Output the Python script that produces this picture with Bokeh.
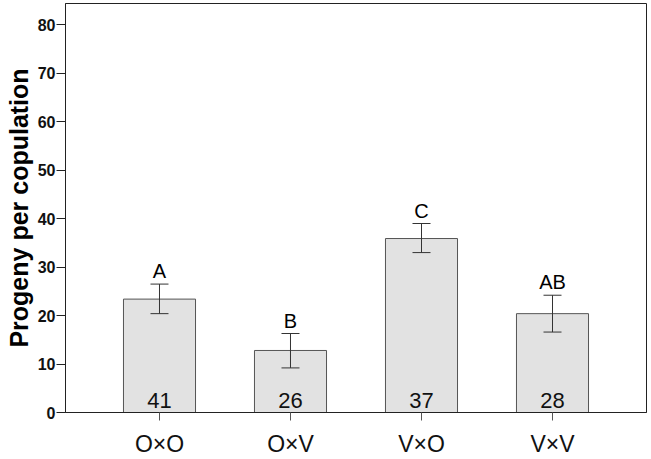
from bokeh.plotting import figure
from bokeh.models import ColumnDataSource, FactorRange, Range1d, FixedTicker, Whisker, TeeHead
from bokeh.embed import file_html
from bokeh.resources import INLINE
from bokeh.core.properties import value

cats = ["O×O", "O×V", "V×O", "V×V"]
means = [23.4, 12.8, 35.9, 20.4]
lower = [20.4, 9.2, 33.0, 16.6]
upper = [26.5, 16.3, 39.0, 24.2]
letters = ["A", "B", "C", "AB"]
ns = ["41", "26", "37", "28"]
y_ticks = [0, 10, 20, 30, 40, 50, 60, 70, 80]

src = ColumnDataSource(dict(cat=cats, mean=means, lo=lower, hi=upper,
                            letter=letters, n=ns, zero=[0] * len(cats)))

FONT = "Liberation Sans"

p = figure(x_range=FactorRange(factors=cats, range_padding=0.2175, range_padding_units="absolute"),
           y_range=Range1d(0, 84.4),
           width=651, height=459, output_backend="svg", toolbar_location=None,
           min_border_left=65, min_border_right=5, min_border_top=3, min_border_bottom=46)

p.vbar(x="cat", top="mean", width=0.55, source=src, fill_color="#e2e2e2",
       line_color="#555555", line_width=1)

w = Whisker(base="cat", lower="lo", upper="hi", source=src, line_color="#333333", line_width=1,
            level="overlay",
            upper_head=TeeHead(size=18, line_color="#333333", line_width=1),
            lower_head=TeeHead(size=18, line_color="#333333", line_width=1))
p.add_layout(w)

p.text(x="cat", y="hi", text="letter", source=src, text_align="center", text_baseline="alphabetic",
       y_offset=-13, text_font=value(FONT), text_font_size="20px", text_color="#000000")
p.text(x="cat", y="zero", text="n", source=src, text_align="center", text_baseline="alphabetic",
       y_offset=-12, text_font=value(FONT), text_font_size="22px", text_color="#111111")

p.xgrid.visible = False
p.ygrid.visible = False
p.outline_line_color = "#222222"
p.outline_line_width = 1

p.yaxis.ticker = FixedTicker(ticks=y_ticks)
p.yaxis.axis_label = "Progeny per copulation"
p.yaxis.axis_label_text_font = FONT
p.yaxis.axis_label_text_font_style = "bold"
p.yaxis.axis_label_text_font_size = "25px"
p.yaxis.axis_label_text_color = "#000000"
p.yaxis.axis_label_standoff = 2
p.yaxis.major_label_text_font = FONT
p.yaxis.major_label_text_font_style = "bold"
p.yaxis.major_label_text_font_size = "16px"
p.yaxis.major_label_text_color = "#111111"
p.yaxis.major_tick_out = 9
p.yaxis.major_tick_in = 0
p.yaxis.minor_tick_out = 0
p.yaxis.minor_tick_in = 0
p.yaxis.major_label_standoff = 1
p.yaxis.axis_line_color = "#222222"
p.yaxis.major_tick_line_color = "#222222"

p.xaxis.major_label_text_font = FONT
p.xaxis.major_label_text_font_size = "23px"
p.xaxis.major_label_text_color = "#111111"
p.xaxis.major_tick_out = 8
p.xaxis.major_tick_in = 0
p.xaxis.major_label_standoff = 10
p.xaxis.axis_line_color = "#222222"
p.xaxis.major_tick_line_color = "#555555"

open("out.html", "w").write(file_html(p, INLINE))
